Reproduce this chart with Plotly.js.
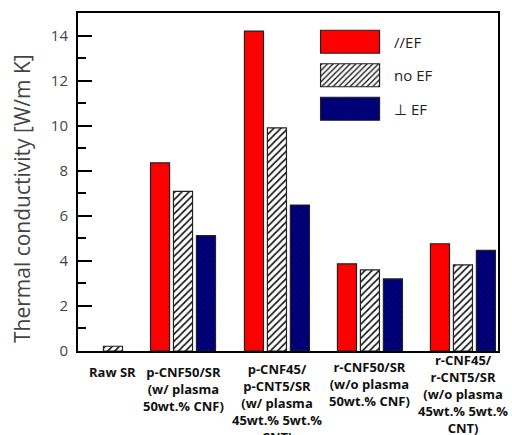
<!DOCTYPE html>
<html>
<head>
<meta charset="utf-8">
<script src="https://cdn.plot.ly/plotly-3.0.1.min.js"></script>
<style>html,body{margin:0;padding:0;background:#fff;}</style>
</head>
<body>
<div id="chart" style="width:512px;height:435px;"></div>
<script>
// Data
const categories = [
  "Raw SR",
  "p-CNF50/SR<br>(w/ plasma<br>50wt.% CNF)",
  "p-CNF45/<br>p-CNT5/SR<br>(w/ plasma<br>45wt.% 5wt.%<br>CNT)",
  "r-CNF50/SR<br>(w/o plasma<br>50wt.% CNF)",
  "r-CNF45/<br>r-CNT5/SR<br>(w/o plasma<br>45wt.% 5wt.%<br>CNT)"
];
const parallelEF = [null, 8.35, 14.2, 3.87, 4.76];
const noEF       = [0.21, 7.08, 9.9, 3.6, 3.82];
const perpEF     = [null, 5.12, 6.48, 3.2, 4.47];
const seriesNames = ["//EF", "no EF", "\u22a5 EF"];
const yTitle = "Thermal conductivity [W/m K]";

// Layout: group centre positions (the original spaces the first group closer)
const groupPos = [0.247, 1, 2.01, 3.01, 4.01];
// Layout: gap (px) between x axis and the top of each category label
const labelGap = [10, 10, 7, 5, -2];
const barW = 0.205, step = 0.247;

const lineStyle = {color: '#222', width: 1.2};
const traces = [
  {y: parallelEF, name: seriesNames[0], off: -step,
   marker: {color: '#ff0000', line: lineStyle}},
  {y: noEF, name: seriesNames[1], off: 0,
   marker: {color: '#ffffff', line: lineStyle,
            pattern: {shape: '/', fgcolor: '#111', bgcolor: '#ffffff', size: 5, solidity: 0.33, fillmode: 'replace'}}},
  {y: perpEF, name: seriesNames[2], off: step,
   marker: {color: '#00008a', line: lineStyle,
            pattern: {shape: '/', fgcolor: '#000045', bgcolor: '#000090', size: 4, solidity: 0.35, fillmode: 'replace'}}}
].map((t, i) => ({
  type: 'bar',
  x: groupPos,
  y: t.y,
  name: t.name,
  width: barW,
  offset: t.off - barW / 2,
  marker: t.marker,
  legendgroup: 'g' + i,
  hoverinfo: 'none'
}));

const catFont = {family: 'Open Sans, sans-serif', size: 13, color: '#111', weight: 'bold'};
const annotations = categories.map((c, i) => ({
  text: c, xref: 'x', yref: 'paper', x: groupPos[i], y: 0,
  xanchor: 'center', yanchor: 'top', yshift: -labelGap[i],
  showarrow: false, align: 'center', font: catFont
}));
annotations.push({
  text: yTitle, textangle: -90,
  xref: 'paper', yref: 'paper',
  x: -0.133, y: 0.45, xanchor: 'center', yanchor: 'middle',
  showarrow: false,
  font: {family: 'Open Sans, sans-serif', size: 21, color: '#444'}
});

const layout = {
  width: 512, height: 435,
  margin: {l: 78, r: 14, t: 13, b: 84},
  paper_bgcolor: '#fff', plot_bgcolor: '#fff',
  barmode: 'overlay',
  showlegend: true,
  legend: {
    x: 0.543, xanchor: 'left', y: 0.963, yanchor: 'top',
    bgcolor: 'rgba(0,0,0,0)',
    font: {family: 'Open Sans, sans-serif', size: 15, color: '#222'},
    itemwidth: 78,
    tracegroupgap: 11,
    traceorder: 'grouped'
  },
  xaxis: {
    range: [-0.129, 4.387],
    tickmode: 'array',
    tickvals: groupPos,
    showticklabels: false,
    ticks: '',
    showgrid: false, zeroline: false,
    showline: true, linecolor: '#000', linewidth: 2, mirror: true,
    automargin: false
  },
  yaxis: {
    range: [0, 15],
    tickmode: 'linear', tick0: 0, dtick: 2,
    ticks: 'inside', ticklen: 14, tickwidth: 2, tickcolor: '#000',
    minor: {dtick: 1, ticks: 'inside', ticklen: 8, tickwidth: 2, tickcolor: '#000'},
    showgrid: false, zeroline: false,
    showline: true, linecolor: '#000', linewidth: 2, mirror: true,
    tickfont: {family: 'Open Sans, sans-serif', size: 15, color: '#444'},
    ticklabelstandoff: 5,
    automargin: false
  },
  annotations: annotations
};

function bigSwatches() {
  document.querySelectorAll('#chart .legend .legendpoints path').forEach(p => {
    p.setAttribute('d', 'M29.5,11.5H-29.5V-11.5H29.5Z');
  });
}
const gd = document.getElementById('chart');
Plotly.newPlot(gd, traces, layout, {displayModeBar: false, staticPlot: true}).then(() => {
  bigSwatches();
  setTimeout(bigSwatches, 0);
  setTimeout(bigSwatches, 100);
  gd.on && gd.on('plotly_afterplot', bigSwatches);
});
</script>
</body>
</html>
